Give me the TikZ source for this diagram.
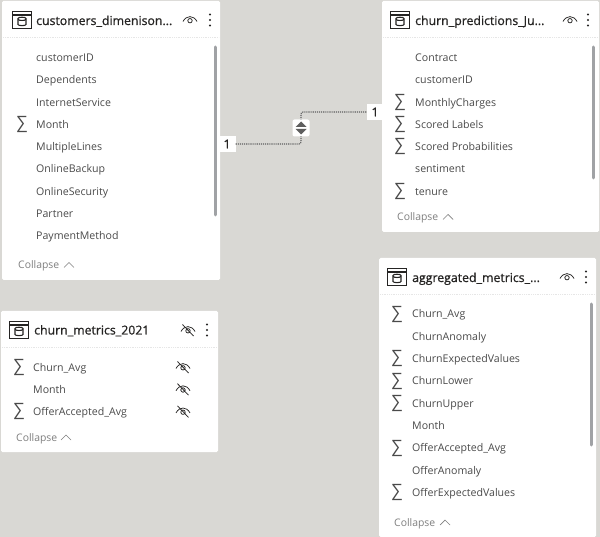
\documentclass[tikz,border=0pt]{standalone}
\usepackage{fontspec}
\setmainfont{Open Sans}
\newfontfamily\semib{Open Sans}[FakeBold=0.8]
\usetikzlibrary{calc}
\definecolor{bgc}{HTML}{D9D8D4}
\definecolor{txtc}{HTML}{4A4A4A}
\definecolor{darkc}{HTML}{252423}
\definecolor{grayc}{HTML}{7F7F7F}
\definecolor{barc}{HTML}{A0A2A5}
\definecolor{linec}{HTML}{E6E6E6}
\definecolor{linkc}{HTML}{5E5E5E}
\tikzset{
  card/.style={fill=white,draw=none,rounded corners=1.5pt},
  fieldtxt/.style={anchor=base west,inner sep=0pt,text=txtc,font=\fontsize{10.6}{12}\selectfont},
  titletxt/.style={anchor=base west,inner sep=0pt,text=darkc,font=\fontsize{12.3}{14}\semib},
  sigmatxt/.style={anchor=center,inner sep=0pt,text=txtc,font=\fontsize{17}{18}\selectfont},
  colltxt/.style={anchor=base west,inner sep=0pt,text=grayc,font=\fontsize{10.4}{12}\selectfont},
  headline/.style={draw=linec,line width=.8pt,densely dotted},
  scrollbar/.style={draw=barc,line width=3pt,line cap=round},
  iconline/.style={draw=darkc,line width=1.1pt},
  eyeline/.style={draw=darkc,line width=.75pt},
  cardinal/.style={fill=white,inner sep=0pt,minimum width=17pt,minimum height=16pt,text=darkc,font=\fontsize{12}{12}\semib},
  linkline/.style={draw=linkc,line width=1.1pt,densely dotted,rounded corners=2pt},
}
\newcommand{\tableicon}[2]{%
  \begin{scope}[shift={(#1,#2)}]
    \draw[iconline] (-9.5,-8.5) rectangle (9.5,8.5);
    \draw[iconline,line width=1.4pt] (-9.5,-5) -- (9.5,-5);
    \draw[iconline] (-4,-1.5) .. controls (-4,-3.2) and (4,-3.2) .. (4,-1.5) -- (4,4.5) .. controls (4,6) and (-4,6) .. (-4,4.5) -- cycle;
    \draw[iconline] (-4,-.5) .. controls (-3,.8) and (3,.8) .. (4,-.5);
  \end{scope}}
\newcommand{\eyeopen}[2]{%
  \begin{scope}[shift={(#1,#2)}]
    \draw[eyeline] (-7,2) .. controls (-3.5,-4.5) and (3.5,-4.5) .. (7,2);
    \draw[eyeline] (0,1.2) circle (2.2);
  \end{scope}}
\newcommand{\eyeshut}[2]{%
  \begin{scope}[shift={(#1,#2)}]
    \draw[eyeline] (-7,1.5) .. controls (-3.5,-5) and (3.5,-5) .. (7,1.5);
    \draw[eyeline] (0,.8) circle (2.2);
    \draw[eyeline] (-5.5,-5.5) -- (5.5,6);
  \end{scope}}
\newcommand{\vdotsicon}[2]{%
  \fill[darkc] (#1,#2-5.5) circle (1.05) (#1,#2) circle (1.05) (#1,#2+5.5) circle (1.05);}
\newcommand{\chevron}[2]{\draw[grayc,line width=.7pt] (#1-5,#2+2.5) -- (#1,#2-2.5) -- (#1+5,#2+2.5);}
\begin{document}
\begin{tikzpicture}[x=1pt,y=-1pt]
\useasboundingbox (0,0) rectangle (600,537);
\fill[bgc] (0,0) rectangle (600,537);

% --- cards
\fill[card] (2,1) rectangle (220,280);
\fill[card] (382,1) rectangle (599,232);
\fill[card] (1,311) rectangle (218,452);
\fill[card] (379,258) rectangle (596,537);

% --- connector
\node[cardinal] (oneL) at (227,144) {1};
\node[cardinal] (oneR) at (375,112) {1};
\coordinate (midB) at (301,144);
\coordinate (midT) at (301,112);
\draw[linkline] (oneL.east) -- (midB) -- (midT) -- (oneR.west);
\node[fill=white,rounded corners=2pt,minimum width=17pt,minimum height=17pt,inner sep=0pt] (xfilter) at (301,128) {};
\fill[linkc] ($(xfilter)+(-5.5,-1)$) -- ($(xfilter)+(5.5,-1)$) -- ($(xfilter)+(0,-6.5)$) -- cycle;
\fill[linkc] ($(xfilter)+(-5.5,1)$) -- ($(xfilter)+(5.5,1)$) -- ($(xfilter)+(0,6.5)$) -- cycle;

% --- customers_dimension
\tableicon{22}{20}
\node[titletxt] (t1) at (36,25) {customers\_dimenison...};
\eyeopen{190}{19.5}
\vdotsicon{210}{20}
\draw[headline] (3,37.5) -- (219,37.5);
\draw[scrollbar] (215,47) -- (215,215);
\foreach \n/\lab [count=\i from 0] in {a/customerID,b/Dependents,c/InternetService,d/Month,e/MultipleLines,f/OnlineBackup,g/OnlineSecurity,h/Partner,k/PaymentMethod}{
  \node[fieldtxt] (c\n) at (36,{61.5+\i*22.3}) {\lab};
}
\node[sigmatxt] (cs) at (22,124) {∑};
\node[colltxt] (c1) at (18,269) {Collapse};
\chevron{69}{265}

% --- churn_predictions
\tableicon{400}{20}
\node[titletxt] (t2) at (415,25) {churn\_predictions\_Ju...};
\eyeopen{570}{19.5}
\vdotsicon{588}{20}
\draw[headline] (383,37.5) -- (598,37.5);
\draw[scrollbar] (593,47) -- (593,178);
\foreach \n/\lab [count=\i from 0] in {a/Contract,b/customerID,c/MonthlyCharges,d/Scored Labels,e/Scored Probabilities,f/sentiment,g/tenure}{
  \node[fieldtxt] (p\n) at (415,{61.5+\i*22.3}) {\lab};
}
\foreach \y in {102,124,146,191}{\node[sigmatxt] at (400,\y) {∑};}
\node[colltxt] (c2) at (397,221) {Collapse};
\chevron{448}{217}

% --- churn_metrics
\tableicon{19}{330}
\node[titletxt] (t3) at (34,334.5) {churn\_metrics\_2021};
\eyeshut{188}{330}
\vdotsicon{207}{330}
\draw[headline] (2,347) -- (217,347);
\foreach \n/\lab [count=\i from 0] in {a/Churn\_Avg,b/Month,c/OfferAccepted\_Avg}{
  \node[fieldtxt] (m\n) at (33,{371+\i*22.3}) {\lab};
  \eyeshut{183}{{367+\i*22.2}}
}
\foreach \y in {367,411}{\node[sigmatxt] at (19,\y) {∑};}
\node[colltxt] (c3) at (16,441.5) {Collapse};
\chevron{66}{437.5}

% --- aggregated_metrics
\tableicon{397}{277}
\node[titletxt] (t4) at (412,282) {aggregated\_metrics\_...};
\eyeopen{567}{276.5}
\vdotsicon{586}{277}
\draw[headline] (380,294.5) -- (595,294.5);
\draw[scrollbar] (591,304) -- (591,445);
\foreach \n/\lab [count=\i from 0] in {a/Churn\_Avg,b/ChurnAnomaly,c/ChurnExpectedValues,d/ChurnLower,e/ChurnUpper,f/Month,g/OfferAccepted\_Avg,h/OfferAnomaly,k/OfferExpectedValues}{
  \node[fieldtxt] (g\n) at (412,{318+\i*22.3}) {\lab};
}
\foreach \y in {314,358.6,381,403,448,492.4}{\node[sigmatxt] at (397,\y) {∑};}
\node[colltxt] (c4) at (394,526.5) {Collapse};
\chevron{445}{522.5}
\end{tikzpicture}
\end{document}
